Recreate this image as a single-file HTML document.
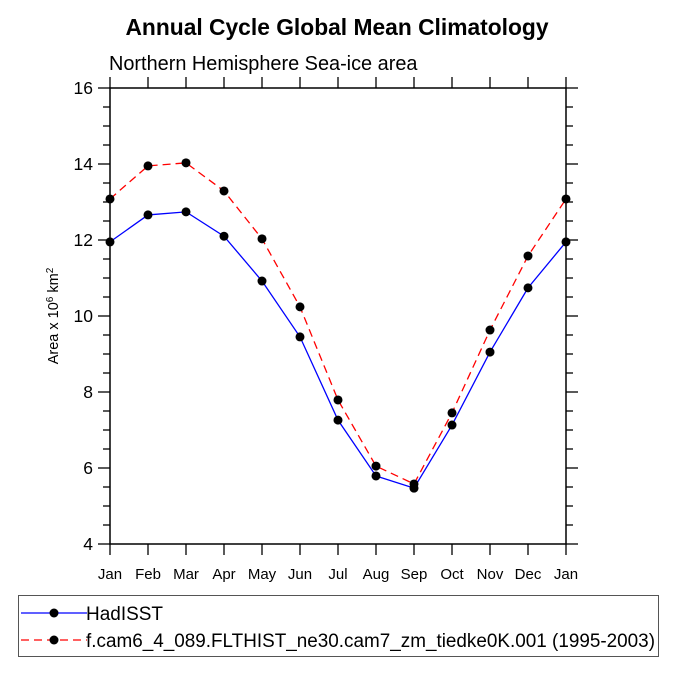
<!DOCTYPE html>
<html><head><meta charset="utf-8"><style>
body{margin:0;background:#fff;}
svg{display:block;font-family:"Liberation Sans",Arial,sans-serif;}
</style></head><body>
<svg id="chart" width="675" height="675" viewBox="0 0 675 675">
<text x="337" y="35" text-anchor="middle" font-size="22.8" font-weight="bold">Annual Cycle Global Mean Climatology</text>
<text x="109" y="70" font-size="19.9">Northern Hemisphere Sea-ice area</text>
<text transform="translate(58,316) rotate(-90)" text-anchor="middle" font-size="14.5">Area x 10<tspan dy="-5" font-size="10">6</tspan><tspan dy="5"> km</tspan><tspan dy="-5" font-size="10">2</tspan></text>
<g id="axes"></g>
<g id="series"></g>
<rect x="18.5" y="595.5" width="640" height="61" fill="none" stroke="#555" stroke-width="1"/>
<g>
<line x1="21" y1="613" x2="87" y2="613" stroke="#0000ff" stroke-width="1.3"/>
<circle cx="54" cy="613" r="4.5" fill="#000"/>
<text x="86" y="620" font-size="19" textLength="77" lengthAdjust="spacingAndGlyphs">HadISST</text></g>
<g>
<line x1="21" y1="640" x2="87" y2="640" stroke="#ff0000" stroke-width="1.3" stroke-dasharray="8,5"/>
<circle cx="54" cy="640" r="4.5" fill="#000"/>
<text x="86" y="647" font-size="19" textLength="569" lengthAdjust="spacingAndGlyphs">f.cam6_4_089.FLTHIST_ne30.cam7_zm_tiedke0K.001 (1995-2003)</text></g>
</svg>
<script>
const months=["Jan","Feb","Mar","Apr","May","Jun","Jul","Aug","Sep","Oct","Nov","Dec","Jan"];
const hadisst=[11.95,12.66,12.74,12.1,10.92,9.45,7.26,5.79,5.47,7.13,9.05,10.74,11.95];
const cam=[13.08,13.95,14.03,13.29,12.03,10.24,7.79,6.05,5.58,7.45,9.63,11.58,13.08];
const yTicks=[4,6,8,10,12,14,16];
const NS="http://www.w3.org/2000/svg";
const L=110,R=566,T=88,B=544,ymin=4,ymax=16;
const xs=i=>L+(R-L)*i/(months.length-1);
const ys=v=>B-(B-T)*(v-ymin)/(ymax-ymin);
function mk(tag,attrs,parent){const e=document.createElementNS(NS,tag);for(const k in attrs)e.setAttribute(k,attrs[k]);parent.appendChild(e);return e;}
const ax=document.getElementById('axes');
const frame=mk('rect',{x:L,y:T,width:R-L,height:B-T,fill:'none',stroke:'#000','stroke-width':1.5},ax);


months.forEach((m,i)=>{const x=xs(i);
mk('line',{x1:x,y1:B,x2:x,y2:B+11,stroke:'#000','stroke-width':1.3},ax);
mk('line',{x1:x,y1:T,x2:x,y2:T-11,stroke:'#000','stroke-width':1.3},ax);
const t=mk('text',{x:x,y:B+35,'text-anchor':'middle','font-size':15},ax);t.textContent=m;

});
for(let v=ymin;v<=ymax+1e-9;v+=0.5){const y=ys(v);const major=Math.abs(v-Math.round(v/2)*2)<1e-9;const len=major?12:7;
mk('line',{x1:L,y1:y,x2:L-len,y2:y,stroke:'#000','stroke-width':1.3},ax);
mk('line',{x1:R,y1:y,x2:R+len,y2:y,stroke:'#000','stroke-width':1.3},ax);}
yTicks.forEach(v=>{const t=mk('text',{x:93,y:ys(v)+6,'text-anchor':'end','font-size':17.5},ax);t.textContent=v;

});
const sg=document.getElementById('series');
function series(vals,color,dash,name){const g=mk('g',{},sg);


const pts=vals.map((v,i)=>xs(i)+','+ys(v)).join(' ');
const a={points:pts,fill:'none',stroke:color,'stroke-width':1.3};if(dash)a['stroke-dasharray']=dash;mk('polyline',a,g);
vals.forEach((v,i)=>{const c=mk('circle',{cx:xs(i),cy:ys(v),r:4.5,fill:'#000'},g);

});}
series(hadisst,'#0000ff',null,'hadisst-line');
series(cam,'#ff0000','8,5','cam-line');
</script>
</body></html>
